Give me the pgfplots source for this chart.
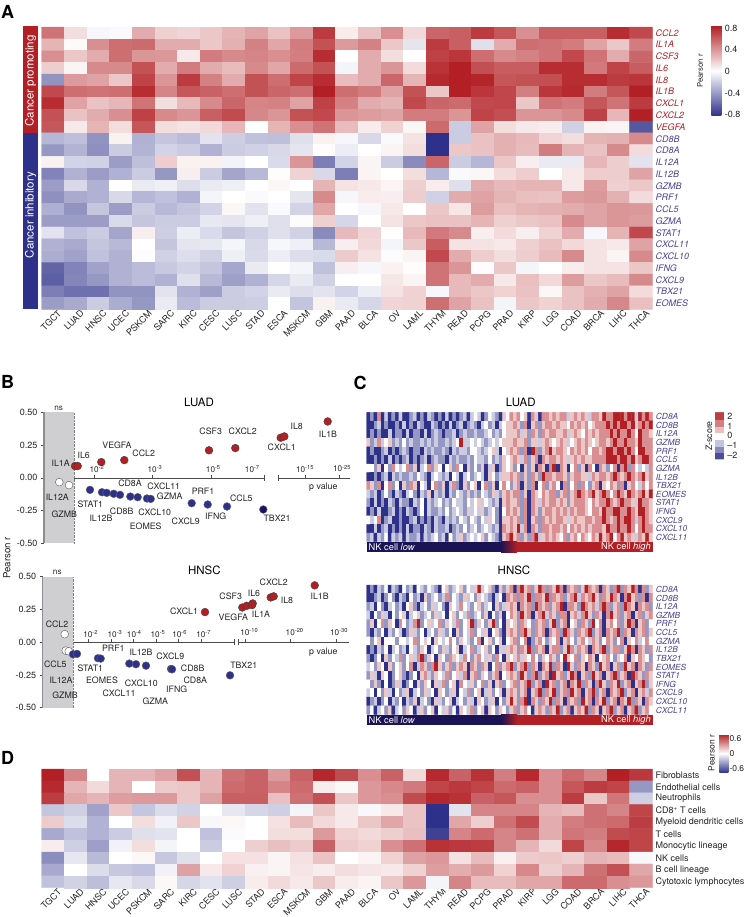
\documentclass[border=0pt]{standalone}
\usepackage{fontspec}
\setmainfont{TeX Gyre Heros}
\usepackage{pgfplots}
\pgfplotsset{compat=1.18}
\definecolor{hred}{RGB}{178,31,36}
\definecolor{hblue}{RGB}{46,49,137}
\definecolor{lblue}{RGB}{72,66,150}
\definecolor{navy}{RGB}{27,20,84}
\definecolor{band}{RGB}{207,207,210}
\definecolor{txt}{RGB}{35,35,35}
\newcommand\fs[1]{\fontsize{#1}{#1}\selectfont}
\newcommand\R[1]{\textcolor{hred}{\textit{#1}}}
\newcommand\B[1]{\textcolor{lblue}{\textit{#1}}}
\newcommand\sq[1]{10\textsuperscript{#1}}
\pgfplotsset{
  colormap={rwb}{rgb255(0cm)=(46,49,137); rgb255(1cm)=(255,255,255); rgb255(2cm)=(178,31,36)},
  heat/.style={
    scale only axis, enlargelimits=false, clip=false, y dir=reverse,
    axis line style={draw=none}, major tick length=0pt,
    yticklabel pos=right,
    tick label style={font=\fs{9}, text=txt},
    ytick style={draw=none}, xtick style={draw=none},
  },
  cats/.style={
    xtick={0,...,26},
    xticklabels={TGCT,LUAD,HNSC,UCEC,PSKCM,SARC,KIRC,CESC,LUSC,STAD,ESCA,MSKCM,GBM,PAAD,BLCA,OV,LAML,THYM,READ,PCPG,PRAD,KIRP,LGG,COAD,BRCA,LIHC,THCA},
    xticklabel style={rotate=45, anchor=north east, inner sep=1pt, yshift=-2pt, xshift=4pt},
    xmin=-0.5, xmax=26.5,
  },
  scat/.style={
    scale only axis, clip=false, xmin=44, xmax=350, ymin=-0.5, ymax=0.5,
    width=306pt, height=131pt,
    axis x line=middle, axis y line=left,
    x axis line style={-, line width=0.5pt, color=black!70},
    y axis line style={-, line width=1.5pt, color=black!45},
    ytick={-0.5,-0.25,0,0.25,0.5},
    yticklabels={-0.50,-0.25,0.00,0.25,0.50},
    yticklabel style={font=\fs{9}, text=txt},
    xtick align=inside, ytick align=outside, major tick length=3pt,
    tick style={color=black!70, line width=0.5pt},
    xticklabels={},
  },
  redpt/.style={only marks, mark=*, mark size=3.9pt, mark options={fill=hred, draw=black!75, line width=0.4pt}},
  bluept/.style={only marks, mark=*, mark size=3.9pt, mark options={fill=hblue, draw=black!60, line width=0.4pt}},
  whipt/.style={only marks, mark=*, mark size=3.9pt, mark options={fill=white, draw=black!65, line width=0.4pt}},
}
\tikzset{lab/.style={font=\fs{8.8}, text=txt, inner sep=0pt},
  tl/.style={font=\fs{8.2}, text=txt, inner sep=0pt},
  ttl/.style={font=\fs{11.5}, text=black, inner sep=0pt},
  let/.style={font=\fs{18}\bfseries, text=black, inner sep=0pt}}
\begin{document}
\begin{tikzpicture}[x=1pt,y=1pt]
\useasboundingbox (0,0) rectangle (745,-917);

% panel A
\begin{axis}[heat, cats, at={(41.7pt,-27pt)}, anchor=north west, width=610.6pt, height=282.3pt,
  ymin=-0.5, ymax=23.5, ytick={0,...,23},
  yticklabels={\R{CCL2},\R{IL1A},\R{CSF3},\R{IL6},\R{IL8},\R{IL1B},\R{CXCL1},\R{CXCL2},\R{VEGFA},\B{CD8B},\B{CD8A},\B{IL12A},\B{IL12B},\B{GZMB},\B{PRF1},\B{CCL5},\B{GZMA},\B{STAT1},\B{CXCL11},\B{CXCL10},\B{IFNG},\B{CXCL9},\B{TBX21},\B{EOMES}},
  yticklabel style={inner sep=3pt},
  point meta min=-0.8, point meta max=0.8,
  colorbar, colorbar shift/.style={xshift=59pt},
  colorbar style={at={(parent axis.north east)}, anchor=north west, yshift=1pt, width=10pt, height=90pt,
    ytick={-0.764,-0.39,0,0.39,0.764}, yticklabels={-0.8,-0.4,0,0.4,0.8}, yticklabel pos=right,
    yticklabel style={font=\fs{9}, text=txt}, axis line style={draw=none}, ytick style={draw=none}},
]
\addplot[matrix plot*, mesh/cols=27, point meta=explicit] table[row sep=crcr, header=false, x expr={mod(\coordindex,27)}, y expr={floor((\coordindex+0.5)/27)}, meta index=0] {
.5\\.12\\-.03\\-.02\\.3\\.17\\.15\\.2\\.27\\.33\\.22\\.36\\.7\\.07\\.22\\.4\\.14\\.55\\.57\\.7\\.6\\.4\\.57\\.57\\.57\\.75\\.65\\
.27\\.02\\.4\\.52\\.53\\.3\\.3\\.2\\.28\\.45\\.32\\.47\\.62\\.36\\.45\\.2\\-.1\\.7\\.57\\-.12\\.3\\.52\\.5\\.47\\.33\\.2\\.47\\
.4\\.2\\.3\\.52\\.38\\.37\\.08\\.47\\.42\\.44\\.4\\.46\\.75\\0\\.3\\.12\\0\\.68\\.72\\.52\\.42\\.45\\.5\\.65\\.5\\.3\\.55\\
.18\\.04\\.42\\.42\\.62\\.3\\.47\\.3\\.24\\.42\\.32\\.53\\.62\\-.04\\.3\\.38\\.13\\.73\\.8\\.63\\.58\\.58\\.75\\.75\\.48\\.67\\.58\\
-.42\\.36\\.33\\.2\\.67\\.38\\.7\\.45\\.3\\.62\\.52\\.67\\.75\\.24\\.3\\.55\\.27\\.76\\.8\\.78\\.6\\.62\\.63\\.75\\.75\\.7\\.72\\
.65\\.52\\.5\\.52\\.75\\.44\\.6\\.56\\.52\\.62\\.55\\.52\\.8\\.52\\.47\\.33\\.62\\.2\\.8\\.72\\.66\\.46\\.72\\.76\\.47\\.6\\.8\\
.75\\.33\\.22\\.26\\.5\\.12\\.25\\.42\\.55\\.44\\.45\\.33\\.68\\.45\\.3\\.27\\.65\\.55\\.53\\.65\\.66\\.2\\.5\\.47\\.6\\.5\\.7\\
.62\\.22\\.3\\.4\\.68\\.42\\.38\\.57\\.64\\.43\\.38\\.62\\.65\\.38\\.35\\.33\\.47\\.47\\.38\\.67\\.63\\.38\\.38\\.42\\.68\\.26\\.8\\
.6\\.08\\.27\\.12\\.6\\.12\\.1\\.14\\.26\\0\\.27\\.4\\.5\\.24\\.07\\.16\\.03\\.53\\-.2\\.33\\.12\\.08\\.07\\-.18\\.05\\.04\\-.65\\
-.28\\-.25\\-.42\\.05\\-.3\\-.22\\-.26\\-.11\\-.19\\-.24\\-.25\\-.12\\.05\\-.03\\-.15\\-.02\\.1\\-.8\\-.2\\.22\\.28\\.25\\.15\\.12\\.27\\.28\\.42\\
-.4\\-.29\\-.43\\-.2\\-.29\\-.17\\-.2\\-.3\\-.2\\-.18\\-.15\\-.1\\.01\\-.07\\0\\.04\\.12\\-.8\\.2\\.22\\.28\\.24\\.47\\.27\\.22\\.42\\.13\\
.05\\-.17\\-.18\\-.38\\-.25\\.18\\.05\\.05\\-.05\\0\\-.14\\.38\\-.5\\-.17\\.04\\-.2\\-.45\\.55\\-.2\\-.28\\.2\\.06\\-.08\\-.08\\.26\\.18\\-.11\\
-.48\\-.3\\-.38\\-.3\\-.2\\-.4\\.06\\-.2\\-.35\\-.27\\.01\\.16\\-.15\\-.5\\.04\\0\\.12\\-.28\\-.02\\.03\\.13\\.18\\0\\.08\\.18\\.18\\.33\\
-.38\\-.15\\-.3\\0\\-.08\\-.06\\-.13\\-.08\\-.06\\0\\.03\\0\\.27\\.1\\.08\\.04\\.17\\.07\\-.12\\.3\\.25\\.27\\.27\\.08\\.35\\.17\\.2\\
-.43\\-.33\\-.3\\-.15\\-.28\\-.24\\-.3\\-.04\\0\\-.02\\0\\-.1\\.42\\-.03\\.07\\.06\\.18\\-.18\\.3\\.33\\.27\\.23\\.22\\.35\\.37\\.28\\.13\\
-.31\\-.42\\-.22\\-.38\\-.2\\-.27\\-.22\\-.17\\.03\\-.11\\-.02\\-.17\\.32\\0\\-.03\\.08\\0\\.2\\.09\\.35\\.23\\.27\\.28\\.3\\.33\\.38\\.37\\
-.38\\-.38\\-.38\\-.14\\-.22\\-.2\\-.2\\-.09\\-.1\\-.06\\-.12\\-.01\\.17\\-.16\\0\\.1\\.2\\.22\\.22\\.27\\.17\\.2\\.22\\.42\\.33\\.38\\.35\\
-.11\\-.24\\-.2\\-.35\\.06\\-.19\\-.07\\-.14\\-.22\\-.18\\-.12\\-.18\\-.45\\.25\\.15\\0\\.25\\.48\\.42\\.06\\.13\\.06\\.16\\.3\\-.03\\.27\\.65\\
-.3\\-.33\\-.22\\-.27\\0\\-.22\\-.1\\-.09\\-.04\\-.15\\-.03\\-.06\\-.27\\.06\\.14\\-.04\\.2\\.58\\.1\\.1\\.08\\.17\\.22\\.14\\.1\\.08\\.33\\
-.32\\-.36\\-.24\\-.3\\.01\\-.18\\-.13\\-.18\\-.06\\-.14\\-.07\\-.13\\-.14\\.19\\.1\\-.01\\.04\\.65\\.3\\.18\\.12\\.18\\.24\\.42\\.1\\.04\\.42\\
-.6\\-.48\\-.36\\-.3\\-.26\\-.21\\-.17\\-.22\\-.34\\-.08\\0\\-.04\\-.24\\.06\\-.03\\.05\\.01\\.5\\.38\\.01\\.2\\-.04\\0\\.07\\.1\\.1\\.2\\
-.62\\-.47\\-.4\\-.3\\-.26\\-.3\\-.12\\-.27\\-.37\\-.3\\-.16\\-.08\\-.18\\0\\0\\.09\\.04\\.5\\.25\\.3\\.08\\.23\\.14\\.35\\.2\\.24\\.42\\
-.5\\-.55\\-.55\\-.42\\-.42\\-.11\\-.3\\-.37\\-.2\\-.17\\-.08\\-.13\\-.11\\-.17\\-.07\\.1\\.16\\-.03\\.25\\.2\\.16\\.22\\.03\\.22\\.28\\.33\\.13\\
-.38\\-.33\\-.2\\-.32\\-.4\\-.08\\-.26\\-.2\\-.2\\-.19\\0\\-.23\\.05\\-.08\\-.16\\.15\\.16\\.52\\.33\\.22\\-.04\\.2\\.16\\.22\\.3\\.43\\.23\\
};
\end{axis}

% panel D
\begin{axis}[heat, cats, at={(41.7pt,-769pt)}, anchor=north west, width=610.6pt, height=118.7pt,
  ymin=-0.5, ymax=9.5, ytick={0,...,9},
  yticklabels={Fibroblasts,Endothelial cells,Neutrophils,CD8\textsuperscript{+} T cells,Myeloid dendritic cells,T cells,Monocytic lineage,NK cells,B cell lineage,Cytotoxic lymphocytes},
  yticklabel style={inner sep=3pt},
  point meta min=-0.6, point meta max=0.6,
  colorbar, colorbar shift/.style={xshift=67pt},
  colorbar style={at={(parent axis.north east)}, anchor=north west, yshift=35pt, width=9pt, height=38.7pt,
    ytick={-0.47,0,0.47}, yticklabels={-0.6,0,0.6}, yticklabel pos=right,
    yticklabel style={font=\fs{8.5}, text=txt, inner sep=1pt}, axis line style={draw=none}, ytick style={draw=none}},
]
\addplot[matrix plot*, mesh/cols=27, point meta=explicit] table[row sep=crcr, header=false, x expr={mod(\coordindex,27)}, y expr={floor((\coordindex+0.5)/27)}, meta index=0] {
.6\\.33\\0\\.2\\.2\\.25\\.47\\.2\\.38\\.42\\.27\\.42\\.58\\.48\\.3\\.42\\.1\\.57\\.42\\.55\\.35\\.57\\.3\\.4\\.33\\.6\\.53\\
.57\\.2\\.1\\.2\\0\\.14\\.15\\.2\\.4\\.42\\.33\\.4\\.05\\.02\\.28\\.32\\.36\\.5\\.53\\.5\\.4\\.42\\.3\\.45\\.52\\.5\\-.3\\
.52\\.24\\.2\\.26\\.27\\.27\\.15\\.25\\.43\\.43\\.17\\.38\\.47\\.15\\.28\\.3\\.48\\.58\\.55\\.42\\.45\\.3\\.3\\.52\\.15\\.37\\-.14\\
-.17\\-.14\\-.27\\.15\\-.17\\-.1\\-.13\\0\\-.07\\-.12\\-.14\\-.03\\.15\\.06\\-.02\\.06\\.16\\-.6\\-.08\\.33\\.33\\.33\\.2\\.18\\.38\\.33\\.5\\
.14\\-.1\\-.22\\0\\.09\\-.04\\.15\\-.02\\.02\\0\\.08\\.18\\.1\\.06\\.15\\.24\\.16\\-.6\\.24\\.13\\.38\\.48\\.22\\.35\\.38\\.4\\.52\\
-.25\\-.18\\-.22\\-.15\\-.09\\-.08\\0\\-.18\\-.01\\0\\.09\\.09\\.27\\.12\\.1\\.13\\.17\\-.55\\.33\\.4\\.33\\.38\\.22\\.37\\.35\\.48\\.5\\
.05\\-.14\\-.28\\-.04\\.09\\-.03\\0\\-.15\\0\\.13\\.17\\.14\\.42\\.14\\.12\\.3\\.38\\.55\\.53\\.52\\.33\\.2\\.1\\.5\\.32\\.58\\.5\\
-.33\\-.07\\-.2\\0\\.02\\-.16\\-.09\\0\\.08\\.08\\.03\\.08\\.16\\0\\.03\\.12\\.25\\.28\\.08\\.18\\.04\\.14\\.15\\.13\\.2\\.18\\-.02\\
-.25\\0\\-.1\\-.16\\-.18\\-.04\\.25\\.06\\.12\\.04\\.03\\.07\\.05\\.09\\.07\\.06\\.12\\.26\\.22\\.27\\.12\\.32\\.13\\.2\\.38\\.47\\.24\\
-.18\\-.13\\-.19\\-.07\\-.11\\.02\\-.12\\-.08\\-.14\\.05\\.1\\.06\\.15\\.05\\.03\\.15\\.28\\-.03\\.33\\.18\\.18\\.24\\.24\\.4\\.4\\.3\\.28\\
};
\end{axis}

% panel C, LUAD
\begin{axis}[heat, at={(366.7pt,-412.3pt)}, anchor=north west, width=286pt, height=129.4pt,
  xmin=-0.5, xmax=79.5, ymin=-0.5, ymax=14.5, xtick=\empty, ytick={0,...,14},
  yticklabels={\B{CD8A},\B{CD8B},\B{IL12A},\B{GZMB},\B{PRF1},\B{CCL5},\B{GZMA},\B{IL12B},\B{TBX21},\B{EOMES},\B{STAT1},\B{IFNG},\B{CXCL9},\B{CXCL10},\B{CXCL11}},
  yticklabel style={font=\fs{8.4}, inner sep=3pt},
  point meta min=-2, point meta max=2,
  colorbar sampled, colorbar shift/.style={xshift=62.5pt},
  colorbar style={samples=8, at={(parent axis.north east)}, anchor=north west, width=8.7pt, height=47pt,
    ytick={-1.68,-0.85,0,0.85,1.68}, yticklabels={--2,--1,0,1,2}, yticklabel pos=right,
    yticklabel style={font=\fs{9}, text=txt}, axis line style={draw=none}, ytick style={draw=none}},
]
\addplot[matrix plot*, mesh/cols=80, point meta=explicit] table[row sep=crcr, header=false, x expr={mod(\coordindex,80)}, y expr={floor((\coordindex+0.5)/80)}, meta index=0] {
-2\\-1\\-2\\1\\-2\\-.5\\-2\\-1\\-2\\-.5\\ -2\\-2\\-1\\-.5\\-2\\-1\\-2\\-.5\\-1\\-2\\ -1\\-2\\-.5\\-2\\-1\\-2\\-1\\-.5\\-2\\-.5\\ 0\\-.5\\-2\\-1\\0\\-.5\\-1\\-2\\.5\\0\\ 1\\.5\\1\\0\\.5\\-2\\1\\.5\\-2\\1\\ 1\\.5\\1\\.5\\1\\1\\-.5\\.5\\1\\.5\\ 1\\.5\\-.5\\1\\1\\.5\\2\\1\\1\\2\\ 2\\2\\1\\2\\2\\-.5\\2\\1\\2\\1\\
-2\\-2\\-1\\-.5\\-2\\-1\\-2\\-2\\-1\\-2\\ -.5\\-2\\-1\\-2\\-.5\\-1\\-2\\-2\\-.5\\-1\\ -2\\-1\\-2\\-.5\\-2\\-1\\-.5\\-2\\-1\\-.5\\ -1\\-2\\-.5\\0\\-1\\-.5\\-2\\-.5\\0\\.5\\ .5\\1\\.5\\-1\\1\\-2\\.5\\1\\-1\\.5\\ 1\\1\\.5\\1\\.5\\.5\\0\\1\\.5\\1\\ .5\\1\\0\\.5\\1\\1\\1\\2\\1\\2\\ 1\\2\\2\\1\\2\\.5\\1\\2\\1\\2\\
-2\\-1\\-2\\-1\\-2\\-2\\-.5\\-2\\-1\\-1\\ -2\\-.5\\-2\\-1\\-1\\-2\\-.5\\-2\\-1\\-.5\\ -1\\-2\\-1\\-1\\-.5\\-2\\-1\\-.5\\-1\\-1\\ -.5\\-1\\-1\\-.5\\0\\-1\\-.5\\-1\\0\\.5\\ .5\\.5\\1\\-.5\\.5\\-1\\1\\.5\\-1\\1\\ .5\\1\\1\\.5\\.5\\1\\-.5\\.5\\1\\.5\\ 0\\1\\.5\\1\\.5\\1\\1\\1\\2\\1\\ 2\\1\\1\\2\\1\\0\\2\\1\\1\\.5\\
.5\\-1\\-.5\\1\\-.5\\0\\.5\\-1\\-.5\\-1\\ 0\\-1\\-.5\\-1\\-1\\-.5\\-1\\-.5\\-1\\-.5\\ -1\\-1\\-.5\\-1\\-.5\\0\\2\\-.5\\-.5\\0\\ -.5\\0\\-.5\\-1\\-.5\\0\\-.5\\0\\.5\\.5\\ .5\\1\\.5\\.5\\1\\-1\\.5\\.5\\-.5\\.5\\ 1\\.5\\0\\.5\\1\\.5\\-.5\\0\\.5\\1\\ .5\\1\\.5\\0\\.5\\1\\1\\.5\\1\\2\\ 1\\1\\2\\1\\1\\.5\\2\\1\\1\\1\\
-2\\-1\\-2\\-2\\-1\\-.5\\-2\\-1\\-2\\-1\\ -.5\\-1\\-2\\-1\\-1\\-2\\-.5\\-1\\-.5\\-1\\ -1\\-.5\\-1\\-2\\-.5\\-1\\-.5\\-.5\\-1\\0\\ 0\\-.5\\-1\\-.5\\0\\.5\\-.5\\-2\\0\\.5\\ 1\\.5\\1\\-1\\1\\-2\\2\\1\\-1\\.5\\ 1\\2\\.5\\1\\1\\.5\\0\\1\\.5\\1\\ .5\\1\\0\\1\\1\\.5\\1\\2\\2\\1\\ 2\\2\\1\\2\\1\\0\\2\\2\\1\\1\\
-2\\-2\\-1\\-2\\-1\\-2\\-.5\\-2\\-1\\-2\\ -1\\-.5\\-2\\-1\\-2\\-1\\-.5\\-2\\-1\\-.5\\ -1\\-1\\-2\\-.5\\-1\\-.5\\-1\\-1\\-.5\\-1\\ 0\\-.5\\-.5\\-1\\0\\-1\\-.5\\-1\\.5\\0\\ .5\\1\\.5\\-.5\\1\\-1\\.5\\1\\-2\\1\\ .5\\1\\1\\.5\\1\\.5\\-.5\\.5\\1\\.5\\ 1\\.5\\.5\\1\\1\\1\\1\\2\\2\\2\\ 1\\2\\2\\1\\2\\.5\\1\\2\\2\\1\\
0\\0\\-1\\.5\\-2\\0\\-1\\1\\0\\-.5\\ 0\\1\\-1\\.5\\-2\\-.5\\0\\1\\-1\\.5\\ 0\\-2\\0\\.5\\-1\\1\\0\\-2\\.5\\-1\\ 0\\-1\\.5\\-2\\-.5\\.5\\-2\\-1\\.5\\0\\ .5\\-1\\0\\-2\\.5\\-1\\.5\\-2\\1\\.5\\ -2\\1\\2\\-2\\1\\.5\\-2\\0\\1\\-1\\ .5\\-2\\1\\0\\-2\\1\\.5\\-1\\0\\1\\ -2\\1\\2\\-1\\1\\0\\-.5\\0\\-.5\\1\\
-2\\-2\\-1\\-2\\-1\\-.5\\-2\\-.5\\-1\\-.5\\ -1\\-1\\-.5\\-1\\0\\-.5\\-1\\-2\\-.5\\0\\ -.5\\-1\\-.5\\-2\\0\\-.5\\-2\\-.5\\0\\-1\\ -.5\\0\\-.5\\-2\\.5\\0\\-1\\-.5\\.5\\.5\\ 1\\.5\\1\\-1\\.5\\-1\\1\\.5\\-1\\2\\ 1\\1\\.5\\1\\1\\.5\\-1\\.5\\1\\1\\ .5\\.5\\-.5\\1\\.5\\1\\1\\.5\\1\\2\\ 1\\.5\\1\\2\\1\\.5\\1\\2\\.5\\1\\
1\\.5\\-1\\1\\-2\\0\\1\\-1\\0\\-2\\ .5\\-1\\1\\.5\\-2\\0\\-.5\\-2\\0\\1\\ -1\\.5\\-2\\-.5\\1\\-1\\-2\\.5\\-1\\0\\ .5\\-2\\0\\1\\-1\\.5\\-2\\0\\1\\0\\ -1\\.5\\1\\-2\\.5\\-1\\1\\-2\\0\\1\\ -1\\.5\\1\\0\\-2\\1\\-1\\0\\1\\-1\\ 1\\0\\-1\\.5\\1\\-2\\.5\\0\\1\\.5\\ -1\\1\\-2\\.5\\1\\0\\-.5\\1\\0\\1\\
-.5\\-1\\-.5\\-2\\-1\\0\\-1\\-2\\-.5\\-1\\ -2\\-.5\\0\\-1\\-2\\-.5\\-1\\.5\\-2\\-.5\\ -1\\-.5\\-2\\-.5\\-1\\0\\-.5\\-1\\.5\\-1\\ -.5\\-1\\0\\-.5\\-1\\.5\\-.5\\-1\\.5\\1\\ .5\\1\\1\\-1\\.5\\-2\\1\\.5\\0\\1\\ .5\\1\\1\\-1\\.5\\1\\-1\\.5\\1\\2\\ 1\\.5\\1\\2\\.5\\1\\2\\1\\0\\1\\ 2\\1\\.5\\2\\1\\.5\\1\\2\\.5\\2\\
-1\\-2\\-.5\\-2\\-1\\-2\\-.5\\-1\\-2\\-.5\\ -1\\-1\\-2\\-.5\\-1\\0\\-2\\-.5\\-1\\-.5\\ 0\\-1\\-.5\\-1\\0\\-.5\\-.5\\-1\\0\\-.5\\ 0\\.5\\-.5\\0\\-.5\\-1\\-.5\\-2\\.5\\1\\ .5\\.5\\1\\-1\\1\\-2\\1\\.5\\-.5\\1\\ .5\\1\\1\\.5\\1\\.5\\-1\\.5\\1\\1\\ 1\\.5\\0\\1\\.5\\1\\1\\2\\1\\.5\\ 1\\2\\1\\1\\.5\\-.5\\2\\1\\1\\.5\\
-2\\-1\\-2\\-.5\\-2\\-2\\-1\\-.5\\-2\\-1\\ -2\\-.5\\-1\\-2\\-1\\0\\-2\\-.5\\-1\\-1\\ -.5\\-1\\0\\-1\\-.5\\0\\-.5\\-1\\.5\\-.5\\ 0\\-.5\\.5\\-1\\-.5\\0\\-1\\-2\\0\\1\\ .5\\1\\.5\\-1\\1\\-2\\1\\.5\\-1\\.5\\ 1\\1\\.5\\1\\.5\\1\\-.5\\1\\.5\\1\\ 1\\.5\\0\\1\\1\\.5\\2\\1\\1\\2\\ 2\\1\\1\\2\\1\\.5\\2\\2\\1\\.5\\
0\\-.5\\0\\1\\-2\\-1\\-.5\\-2\\-2\\-1\\ -2\\-2\\-1\\-.5\\-2\\-1\\-2\\-1\\-2\\-.5\\ -1\\-2\\-.5\\-1\\-.5\\-1\\0\\-.5\\-1\\0\\ -.5\\-1\\0\\-.5\\.5\\0\\-1\\-2\\.5\\.5\\ 1\\.5\\1\\-1\\1\\-2\\.5\\1\\-1\\1\\ .5\\1\\.5\\1\\1\\.5\\-.5\\.5\\1\\.5\\ .5\\1\\1\\.5\\1\\1\\2\\1\\.5\\1\\ 2\\1\\2\\2\\1\\-.5\\1\\2\\1\\.5\\
-2\\-2\\-.5\\-2\\-1\\-.5\\-2\\-1\\-2\\-1\\ -2\\-.5\\-2\\-1\\-1\\-2\\-.5\\-1\\-2\\-.5\\ -1\\-1\\-.5\\-2\\-1\\-.5\\-1\\0\\-1\\-.5\\ 0\\-1\\-.5\\0\\-.5\\-1\\-.5\\-2\\1\\.5\\ 1\\.5\\2\\-.5\\1\\-2\\1\\.5\\-1\\1\\ 1\\.5\\1\\1\\.5\\1\\0\\1\\.5\\1\\ .5\\1\\.5\\1\\1\\1\\.5\\2\\1\\1\\ 2\\1\\1\\2\\1\\0\\1\\2\\1\\1\\
-1\\-.5\\-2\\-.5\\-1\\0\\-2\\-.5\\-1\\-.5\\ -2\\-.5\\-1\\-1\\-.5\\-2\\-.5\\-1\\-.5\\0\\ -1\\-.5\\-2\\0\\-1\\-.5\\.5\\-1\\-.5\\0\\ -.5\\0\\.5\\-1\\0\\-.5\\-1\\-2\\.5\\1\\ 2\\.5\\1\\-1\\.5\\-1\\1\\2\\-.5\\.5\\ 1\\.5\\1\\.5\\0\\1\\-1\\.5\\1\\0\\ 1\\.5\\0\\1\\.5\\2\\.5\\1\\2\\0\\ 1\\2\\.5\\1\\.5\\-.5\\1\\.5\\2\\.5\\
};
\end{axis}

% panel C, HNSC
\begin{axis}[heat, at={(366.7pt,-585pt)}, anchor=north west, width=286pt, height=129.4pt,
  xmin=-0.5, xmax=79.5, ymin=-0.5, ymax=14.5, xtick=\empty, ytick={0,...,14},
  yticklabels={\B{CD8A},\B{CD8B},\B{IL12A},\B{GZMB},\B{PRF1},\B{CCL5},\B{GZMA},\B{IL12B},\B{TBX21},\B{EOMES},\B{STAT1},\B{IFNG},\B{CXCL9},\B{CXCL10},\B{CXCL11}},
  yticklabel style={font=\fs{8.4}, inner sep=3pt},
  point meta min=-2, point meta max=2,
]
\addplot[matrix plot*, mesh/cols=80, point meta=explicit] table[row sep=crcr, header=false, x expr={mod(\coordindex,80)}, y expr={floor((\coordindex+0.5)/80)}, meta index=0] {
-2\\-1\\-2\\-.5\\-1\\0\\-2\\-.5\\-1\\-2\\ 0\\-1\\-.5\\-2\\0\\-.5\\-1\\0\\-.5\\-1\\ -2\\0\\.5\\-1\\-.5\\0\\.5\\-1\\0\\-.5\\ .5\\2\\-.5\\0\\.5\\-1\\-2\\.5\\-1\\.5\\ 1\\-2\\1\\2\\.5\\1\\-1\\.5\\2\\1\\ -1\\1\\.5\\2\\1\\-2\\1\\.5\\1\\-1\\ .5\\2\\1\\.5\\1\\-2\\1\\.5\\-1\\1\\ 2\\-1\\1\\.5\\2\\1\\-2\\1\\-1\\.5\\
-2\\-2\\-1\\-.5\\-2\\-1\\0\\-1\\-2\\-.5\\ -1\\-2\\0\\-1\\-.5\\-2\\.5\\-1\\-.5\\0\\ -1\\-.5\\1\\-1\\0\\-.5\\-1\\.5\\-.5\\0\\ -1\\.5\\0\\-.5\\-1\\-2\\-.5\\0\\-2\\1\\ .5\\1\\-1\\1\\.5\\2\\-1\\1\\1\\.5\\ 2\\-1\\1\\.5\\1\\-1\\.5\\1\\2\\-.5\\ 1\\.5\\1\\2\\.5\\-1\\1\\.5\\2\\1\\ .5\\-2\\1\\2\\.5\\1\\-1\\1\\-2\\1\\
-1\\-.5\\-2\\0\\-1\\-2\\-.5\\0\\-1\\-.5\\ -2\\0\\.5\\-1\\-2\\-.5\\0\\-1\\.5\\-.5\\ 0\\-1\\-2\\.5\\0\\-.5\\1\\0\\-.5\\-1\\ 0\\.5\\-1\\-.5\\0\\-2\\.5\\-1\\-.5\\.5\\ 1\\.5\\-2\\1\\.5\\1\\-1\\2\\1\\.5\\ 1\\-1\\.5\\1\\2\\-2\\1\\1\\.5\\-1\\ 2\\1\\.5\\1\\-.5\\1\\2\\1\\-1\\.5\\ 1\\-1\\2\\1\\.5\\-2\\1\\.5\\1\\-1\\
-.5\\-2\\0\\-1\\.5\\-.5\\-2\\0\\-1\\0\\ .5\\-2\\-.5\\0\\.5\\-1\\-.5\\0\\-1\\.5\\ -.5\\0\\-2\\0\\.5\\-1\\0\\-.5\\1\\-1\\ -.5\\0\\-1\\.5\\-2\\0\\-1\\.5\\-2\\0\\ 1\\.5\\-1\\2\\.5\\1\\-2\\.5\\1\\2\\ -.5\\1\\.5\\-1\\1\\1\\-2\\.5\\1\\-.5\\ 1\\2\\.5\\-1\\1\\.5\\-2\\1\\2\\.5\\ 1\\-1\\.5\\1\\-2\\.5\\1\\-1\\.5\\1\\
-1\\.5\\-2\\0\\1\\-1\\.5\\0\\-2\\1\\ 0\\-1\\-.5\\1\\2\\-1\\0\\.5\\-.5\\0\\ 1\\-1\\.5\\0\\-.5\\1\\-1\\0\\.5\\2\\ -1\\.5\\0\\-1\\.5\\2\\-1\\0\\-2\\.5\\ 0\\.5\\-1\\1\\.5\\0\\-1\\1\\.5\\1\\ -1\\.5\\2\\-1\\.5\\1\\-2\\0\\.5\\-1\\ 1\\.5\\-1\\2\\0\\1\\-2\\.5\\1\\0\\ 1\\-1\\.5\\2\\1\\-2\\.5\\1\\-1\\0\\
-1\\-2\\-.5\\-1\\0\\-2\\-.5\\-1\\0\\-.5\\ -2\\-1\\.5\\-.5\\-1\\0\\-2\\-.5\\0\\-1\\ .5\\-.5\\-1\\0\\-2\\.5\\-1\\0\\-.5\\1\\ -1\\0\\-.5\\.5\\-2\\0\\.5\\-1\\-2\\.5\\ 1\\.5\\-1\\1\\2\\.5\\-1\\1\\.5\\1\\ -2\\1\\.5\\1\\-1\\2\\1\\.5\\-1\\1\\ .5\\1\\2\\-1\\.5\\1\\-2\\1\\.5\\1\\ 2\\-1\\1\\.5\\-2\\1\\.5\\1\\-1\\.5\\
0\\-1\\0\\.5\\-2\\0\\0\\0\\-1\\0\\ 0\\-.5\\0\\1\\-1\\0\\.5\\0\\-2\\.5\\ 0\\-.5\\0\\1\\0\\-1\\.5\\0\\-.5\\-1\\ 0\\1\\-2\\0\\.5\\-1\\0\\.5\\-2\\0\\ .5\\1\\-1\\0\\1\\-2\\-1\\.5\\1\\0\\ -1\\.5\\0\\1\\-2\\.5\\1\\0\\-1\\.5\\ 1\\0\\-.5\\1\\.5\\-1\\0\\1\\.5\\-1\\ 0\\1\\-2\\.5\\0\\1\\-.5\\0\\1\\0\\
-2\\-1\\-2\\-.5\\-1\\0\\-2\\-.5\\0\\-1\\ -.5\\-2\\0\\-.5\\-1\\.5\\0\\-2\\-.5\\0\\ -1\\.5\\-.5\\-1\\0\\.5\\-2\\-.5\\0\\1\\ -1\\-.5\\0\\.5\\-1\\0\\-2\\.5\\-.5\\.5\\ 1\\.5\\-1\\1\\.5\\2\\-1\\1\\.5\\1\\ -2\\.5\\1\\1\\-1\\.5\\2\\1\\-.5\\1\\ .5\\1\\-2\\1\\.5\\1\\2\\-1\\.5\\1\\ 1\\-1\\.5\\2\\1\\-2\\1\\.5\\-1\\1\\
-1\\-2\\-1\\0\\-2\\.5\\-1\\0\\-.5\\1\\ -1\\0\\.5\\-.5\\1\\2\\-1\\.5\\0\\-2\\ .5\\0\\-1\\1\\.5\\0\\-.5\\1\\0\\-1\\ .5\\1\\0\\-.5\\.5\\-1\\1\\0\\-2\\.5\\ 0\\.5\\1\\-.5\\.5\\0\\1\\0\\-1\\.5\\ 0\\1\\.5\\-1\\0\\2\\.5\\0\\1\\-1\\ .5\\0\\1\\.5\\-2\\0\\.5\\1\\0\\-1\\ .5\\0\\1\\-2\\.5\\0\\1\\.5\\0\\-1\\
-.5\\0\\-1\\.5\\0\\-2\\.5\\-1\\0\\.5\\ -1\\0\\1\\-2\\-.5\\1\\.5\\-1\\1\\2\\ .5\\-1\\.5\\1\\-1\\.5\\1\\.5\\-2\\1\\ .5\\-1\\1\\.5\\-2\\0\\1\\-1\\.5\\1\\ 2\\-1\\.5\\1\\2\\-1\\1\\.5\\-2\\1\\ .5\\2\\-1\\1\\.5\\-2\\2\\.5\\-1\\1\\ .5\\-2\\1\\.5\\-1\\2\\.5\\1\\-2\\.5\\ 1\\-1\\2\\.5\\1\\-2\\1\\.5\\-1\\1\\
-1\\.5\\-.5\\-2\\.5\\0\\-2\\-1\\0\\.5\\ -1\\-2\\-1\\0\\-2\\.5\\1\\-.5\\-1\\.5\\ 0\\-.5\\1\\-1\\0\\.5\\-.5\\1\\-2\\.5\\ 1\\-1\\.5\\0\\-1\\.5\\1\\-2\\0\\.5\\ 1\\.5\\-1\\2\\.5\\-1\\1\\2\\-1\\.5\\ 1\\-2\\2\\.5\\1\\-1\\.5\\2\\1\\-2\\ .5\\1\\-1\\2\\.5\\1\\-2\\.5\\1\\2\\ -1\\.5\\1\\-2\\2\\1\\.5\\-1\\1\\.5\\
0\\-1\\.5\\-1\\-2\\0\\-2\\-1\\.5\\-.5\\ -2\\-1\\0\\-2\\.5\\-1\\.5\\0\\-2\\.5\\ -.5\\1\\-1\\0\\.5\\-2\\1\\0\\-.5\\.5\\ -1\\0\\1\\-1\\.5\\-2\\.5\\1\\-1\\0\\ .5\\1\\-1\\.5\\1\\2\\-1\\.5\\1\\-2\\ 2\\.5\\1\\-1\\.5\\1\\-2\\1\\.5\\2\\ -1\\1\\.5\\-2\\1\\2\\.5\\-1\\1\\.5\\ 2\\-1\\.5\\1\\-2\\.5\\1\\2\\-1\\.5\\
-.5\\0\\-2\\0\\-1\\.5\\-.5\\-2\\0\\-1\\ -.5\\.5\\-2\\-.5\\0\\-1\\.5\\-.5\\0\\-2\\ .5\\0\\-1\\-.5\\.5\\-2\\0\\-.5\\1\\-1\\ 0\\.5\\-2\\-.5\\.5\\-1\\0\\.5\\-2\\.5\\ 1\\.5\\-1\\.5\\1\\-2\\.5\\1\\2\\-1\\ 1\\.5\\2\\-1\\.5\\1\\-1\\2\\.5\\1\\ -2\\.5\\1\\2\\-1\\.5\\1\\-2\\1\\.5\\ 1\\2\\-1\\.5\\1\\-2\\.5\\1\\-.5\\1\\
-2\\-1\\-.5\\-2\\-1\\0\\-2\\-.5\\-1\\0\\ -2\\-.5\\-1\\.5\\-2\\-.5\\0\\-1\\-2\\.5\\ -.5\\-1\\0\\.5\\-2\\-.5\\0\\-1\\.5\\-.5\\ -2\\.5\\0\\-1\\-.5\\.5\\-2\\0\\-1\\.5\\ 2\\.5\\-1\\1\\2\\-2\\1\\.5\\-1\\1\\ .5\\2\\-1\\1\\.5\\-2\\1\\.5\\1\\-1\\ 2\\.5\\1\\-2\\1\\.5\\2\\-1\\.5\\1\\ -2\\1\\.5\\2\\-1\\1\\.5\\-2\\1\\.5\\
-1\\0\\-2\\-.5\\0\\-1\\.5\\-2\\-.5\\0\\ -1\\.5\\0\\-2\\-.5\\.5\\-1\\0\\.5\\-2\\ 0\\-.5\\.5\\-1\\0\\-2\\.5\\0\\-.5\\1\\ -1\\0\\.5\\-2\\.5\\0\\-1\\.5\\0\\-1\\ .5\\1\\-1\\.5\\1\\0\\-2\\.5\\1\\.5\\ -1\\1\\.5\\2\\-1\\.5\\1\\-2\\.5\\1\\ .5\\2\\-1\\1\\.5\\-2\\.5\\1\\2\\-1\\ .5\\1\\-2\\.5\\1\\2\\-1\\.5\\1\\0\\
};
\end{axis}

% panel B, LUAD
\begin{axis}[scat, at={(44pt,-412.3pt)}, anchor=north west, xtick={94.3,152.7,211.3,305,339.5}]
\fill[band] (axis cs:44.6,-0.5) rectangle (axis cs:74,0.5);
\draw[densely dotted, black!50] (axis cs:74,-0.5) -- (axis cs:74,0.5);
\addplot[whipt] coordinates {(59.3,-0.033) (69,-0.056)};
\addplot[bluept] coordinates {(90,-0.092) (102,-0.11) (106.7,-0.115) (113.7,-0.122) (120,-0.13) (130.3,-0.143) (137.7,-0.148) (147,-0.158) (150.7,-0.161) (191.7,-0.194) (207.7,-0.204) (227,-0.219)};
\addplot[only marks, mark=*, mark size=3.9pt, mark options={fill=navy!90!blue, draw=black!60, line width=0.4pt}] coordinates {(263.3,-0.242)};
\addplot[redpt] coordinates {(75,0.09) (77.7,0.09) (101.3,0.12) (124.3,0.135) (209,0.21) (235.3,0.227) (280.7,0.306) (284.3,0.316) (327.7,0.43)};
\end{axis}

% panel B, HNSC
\begin{axis}[scat, at={(42.7pt,-576.7pt)}, anchor=north west, xmin=42.7, xmax=348.7, xtick={88.3,111,133.7,156,178.3,201,245,290.3,336}]
\fill[band] (axis cs:43.3,-0.5) rectangle (axis cs:72.7,0.5);
\draw[densely dotted, black!50] (axis cs:72.7,-0.5) -- (axis cs:72.7,0.5);
\addplot[whipt] coordinates {(64.7,0.061) (65.7,-0.064) (68.7,-0.069)};
\addplot[bluept] coordinates {(73,-0.092) (77,-0.089) (98,-0.122) (100.7,-0.125) (129.3,-0.163) (136,-0.168) (146,-0.179) (171,-0.204) (172,-0.207) (230,-0.253)};
\addplot[redpt] coordinates {(205,0.23) (242.3,0.265) (246.7,0.278) (252.7,0.296) (252,0.283) (270.7,0.342) (273.7,0.35) (314.7,0.434)};
\end{axis}

% axis breaks
\fill[white] (264.5,-475) rectangle (277.7,-480.5);
\draw[black!70, line width=0.5pt] (264,-474.7) -- (264,-480.7) (278.3,-474.7) -- (278.3,-480.7);
\fill[white] (235,-640) rectangle (238,-645);
\draw[black!70, line width=0.5pt] (234.7,-639.3) -- (234.7,-645.3) (238,-639.3) -- (238,-645.3);

% side bars
\fill[hred] (23.3,-26) rectangle (37.7,-132.7);
\fill[hblue] (23.3,-132.7) rectangle (37.7,-309.3);
\node[font=\fs{11.5}, text=white, rotate=90, inner sep=0pt] at (30.5,-81) {Cancer promoting};
\node[font=\fs{11.5}, text=white, rotate=90, inner sep=0pt] at (30.5,-215) {Cancer inhibitory};

% NK bars
\fill[navy] (366.7,-541.7) rectangle (501,-552);
\shade[left color=navy, right color=hred] (501,-541.7) rectangle (517,-552);
\fill[hred] (517,-541.7) rectangle (652.7,-552);
\node[font=\fs{9.3}, text=white, anchor=west, inner sep=0pt] at (368.5,-546.9) {NK cell \textit{low}};
\node[font=\fs{9.3}, text=white, anchor=east, inner sep=0pt] at (651,-546.9) {NK cell \textit{high}};
\fill[navy] (366.7,-714.5) rectangle (501,-724.8);
\shade[left color=navy, right color=hred] (501,-714.5) rectangle (517,-724.8);
\fill[hred] (517,-714.5) rectangle (652.7,-724.8);
\node[font=\fs{9.3}, text=white, anchor=west, inner sep=0pt] at (368.5,-719.7) {NK cell \textit{low}};
\node[font=\fs{9.3}, text=white, anchor=east, inner sep=0pt] at (651,-719.7) {NK cell \textit{high}};

% panel letters, titles
\node[let] at (7.5,-12) {A};
\node[let] at (7.5,-382) {B};
\node[let] at (360,-382.7) {C};
\node[let] at (7.5,-758) {D};
\node[ttl] at (199,-402) {LUAD};
\node[ttl] at (204.3,-570.7) {HNSC};
\node[ttl] at (520.7,-402) {LUAD};
\node[ttl] at (514,-570.7) {HNSC};

% colour bar titles
\node[font=\fs{7.8}, text=txt, inner sep=0pt, rotate=90] at (700,-71) {Pearson r};
\node[font=\fs{8.8}, text=txt, inner sep=0pt, rotate=90] at (709,-436) {Z-score};
\node[font=\fs{8.5}, text=txt, inner sep=0pt, rotate=90] at (711.7,-753) {Pearson r};
\node[font=\fs{9.7}, text=txt, inner sep=0pt, rotate=90] at (7,-558) {Pearson r};

% LUAD labels
\node[tl] at (58.7,-408.7) {ns};
\node[tl] at (97,-469) {\sq{-2}};
\node[tl] at (155,-469) {\sq{-3}};
\node[tl] at (213.3,-469) {\sq{-5}};
\node[tl] at (252.3,-469) {\sq{-7}};
\node[tl] at (305,-469) {\sq{-15}};
\node[tl] at (342,-468.5) {\sq{-25}};
\node[lab] at (323.3,-487) {p value};
\node[lab] at (60.7,-463.3) {IL1A};
\node[lab] at (83.7,-455) {IL6};
\node[lab] at (117,-445.3) {VEGFA};
\node[lab] at (143.7,-453.7) {CCL2};
\node[lab] at (210.7,-431) {CSF3};
\node[lab] at (242.7,-431) {CXCL2};
\node[lab] at (296.7,-426.7) {IL8};
\node[lab] at (281.7,-447.3) {CXCL1};
\node[lab] at (328,-434) {IL1B};
\node[lab] at (130,-483.3) {CD8A};
\node[lab] at (163.7,-486.7) {CXCL11};
\node[lab] at (203,-491.7) {PRF1};
\node[lab] at (169.7,-496) {GZMA};
\node[lab] at (241.3,-498.7) {CCL5};
\node[lab] at (90.3,-504.3) {STAT1};
\node[lab] at (57.3,-497.7) {IL12A};
\node[lab] at (64.3,-514) {GZMB};
\node[lab] at (121.7,-511.7) {CD8B};
\node[lab] at (154.7,-512.7) {CXCL10};
\node[lab] at (101,-518.7) {IL12B};
\node[lab] at (185.7,-521) {CXCL9};
\node[lab] at (215.7,-516.7) {IFNG};
\node[lab] at (277,-518.7) {TBX21};
\node[lab] at (145.7,-526.3) {EOMES};

% HNSC labels
\node[tl] at (57.3,-572) {ns};
\node[tl] at (90.7,-633.7) {\sq{-2}};
\node[tl] at (115,-633.7) {\sq{-3}};
\node[tl] at (134.3,-633.7) {\sq{-4}};
\node[tl] at (158,-633.7) {\sq{-5}};
\node[tl] at (179.7,-633.7) {\sq{-6}};
\node[tl] at (203.7,-633.7) {\sq{-7}};
\node[tl] at (249.3,-632) {\sq{-10}};
\node[tl] at (294.7,-632) {\sq{-20}};
\node[tl] at (339,-632) {\sq{-30}};
\node[lab] at (323.3,-652.7) {p value};
\node[lab] at (57,-624) {CCL2};
\node[lab] at (55.3,-664.7) {CCL5};
\node[lab] at (61,-680.7) {IL12A};
\node[lab] at (65,-695.7) {GZMB};
\node[lab] at (113.3,-648.3) {PRF1};
\node[lab] at (141,-652.7) {IL12B};
\node[lab] at (170.3,-656.7) {CXCL9};
\node[lab] at (90.3,-668) {STAT1};
\node[lab] at (192.7,-668) {CD8B};
\node[lab] at (243.7,-665.7) {TBX21};
\node[lab] at (102,-680.3) {EOMES};
\node[lab] at (195.3,-680.3) {CD8A};
\node[lab] at (141.3,-683) {CXCL10};
\node[lab] at (176.7,-689) {IFNG};
\node[lab] at (119,-693) {CXCL11};
\node[lab] at (155.3,-701.7) {GZMA};
\node[lab] at (230.7,-596.7) {CSF3};
\node[lab] at (254,-593.7) {IL6};
\node[lab] at (273.7,-582.7) {CXCL2};
\node[lab] at (287,-600.3) {IL8};
\node[lab] at (261,-614.7) {IL1A};
\node[lab] at (233.3,-617) {VEGFA};
\node[lab] at (184,-611.7) {CXCL1};
\node[lab] at (319.7,-596.3) {IL1B};
\end{tikzpicture}
\end{document}
